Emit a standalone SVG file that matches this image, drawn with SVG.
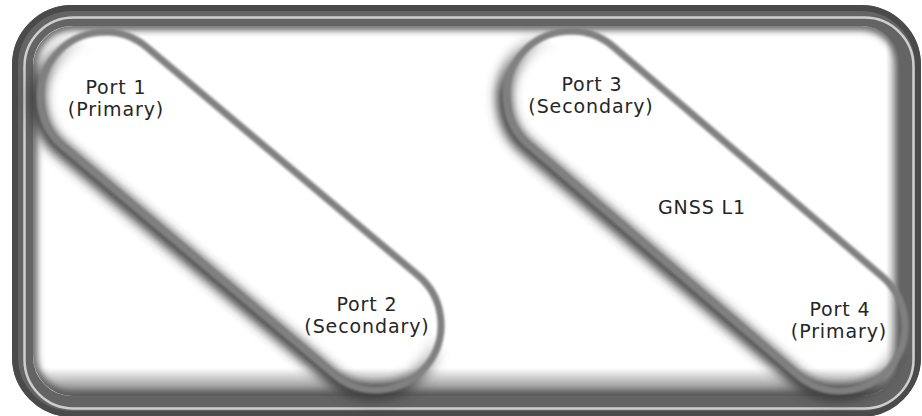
<svg xmlns="http://www.w3.org/2000/svg" width="922" height="416" viewBox="0 0 922 416">
  <defs>
    <filter id="soft" x="-20%" y="-30%" width="140%" height="160%">
      <feGaussianBlur stdDeviation="5.5"/>
    </filter>
    <filter id="edge" x="-10%" y="-10%" width="120%" height="120%">
      <feGaussianBlur stdDeviation="0.8"/>
    </filter>
    <filter id="frameShadow" x="-10%" y="-10%" width="120%" height="120%">
      <feGaussianBlur stdDeviation="3.5"/>
    </filter>
    <clipPath id="inside">
      <rect x="33" y="26" width="868" height="370" rx="40"/>
    </clipPath>
    <linearGradient id="bottomShade" x1="0" y1="0" x2="0" y2="1">
      <stop offset="0" stop-color="#555" stop-opacity="0"/>
      <stop offset="1" stop-color="#555" stop-opacity="0.9"/>
    </linearGradient>
    <linearGradient id="rightShade" x1="0" y1="0" x2="1" y2="0">
      <stop offset="0" stop-color="#555" stop-opacity="0"/>
      <stop offset="1" stop-color="#555" stop-opacity="0.7"/>
    </linearGradient>
    <linearGradient id="halfMask" gradientUnits="userSpaceOnUse" x1="0" y1="-30" x2="0" y2="45">
      <stop offset="0" stop-color="#fff" stop-opacity="0"/>
      <stop offset="1" stop-color="#fff" stop-opacity="1"/>
    </linearGradient>
    <mask id="lowerSide" maskUnits="userSpaceOnUse" x="-320" y="-120" width="640" height="240">
      <rect x="-320" y="-120" width="640" height="240" fill="url(#halfMask)"/>
    </mask>
  </defs>
  <style>
    .lbl { font-family: "DejaVu Sans", "Liberation Sans", sans-serif; font-size: 19px; fill: #262626; text-anchor: middle; letter-spacing: 0.9px; }
    .capShadow { fill: none; stroke: #3a3a3a; stroke-width: 15; }
    .capLine { fill: none; stroke: #808080; stroke-width: 7; }
  </style>

  <rect x="0" y="0" width="922" height="416" fill="#ffffff"/>

  <g id="frame">
    <g clip-path="url(#inside)">
      <rect x="33" y="26" width="868" height="370" rx="40" fill="none" stroke="#555" stroke-width="8" filter="url(#frameShadow)"/>
      <rect x="33" y="368" width="868" height="30" fill="url(#bottomShade)"/>
      <rect x="886" y="26" width="16" height="370" fill="url(#rightShade)"/>
    </g>
    <rect x="22.5" y="15.5" width="888" height="391" rx="50" fill="none" stroke="#646464" stroke-width="21"/>
    <rect x="15" y="8" width="903" height="406" rx="57" fill="none" stroke="#4a4a4a" stroke-width="6"/>
    <rect x="24.5" y="17.5" width="889" height="391" rx="49" fill="none" stroke="#cfcfcf" stroke-width="2.5"/>
  </g>

  <g id="pair-1-2">
    <g transform="translate(240.5 211) rotate(40.07)">
      <g mask="url(#lowerSide)">
        <rect class="capShadow" x="-242.1" y="-62" width="484.2" height="130" rx="65" filter="url(#soft)"/>
      </g>
      <rect class="capLine" x="-242.1" y="-65" width="484.2" height="130" rx="65" filter="url(#edge)"/>
    </g>
    <g id="port1">
      <text class="lbl" x="116" y="94">Port 1</text>
      <text class="lbl" x="116" y="116">(Primary)</text>
    </g>
    <g id="port2">
      <text class="lbl" x="367" y="311">Port 2</text>
      <text class="lbl" x="367" y="333">(Secondary)</text>
    </g>
  </g>

  <g id="pair-3-4">
    <g transform="translate(705.5 211) rotate(40.53)">
      <g mask="url(#lowerSide)">
        <rect class="capShadow" x="-241.95" y="-62" width="483.9" height="130" rx="65" filter="url(#soft)"/>
      </g>
      <rect class="capLine" x="-241.95" y="-65" width="483.9" height="130" rx="65" filter="url(#edge)"/>
    </g>
    <g id="port3">
      <text class="lbl" x="592" y="91">Port 3</text>
      <text class="lbl" x="591" y="113">(Secondary)</text>
    </g>
    <g id="port4">
      <text class="lbl" x="840" y="316">Port 4</text>
      <text class="lbl" x="839" y="338">(Primary)</text>
    </g>
    <g id="gnss">
      <text class="lbl" x="702" y="214">GNSS L1</text>
    </g>
  </g>
</svg>
